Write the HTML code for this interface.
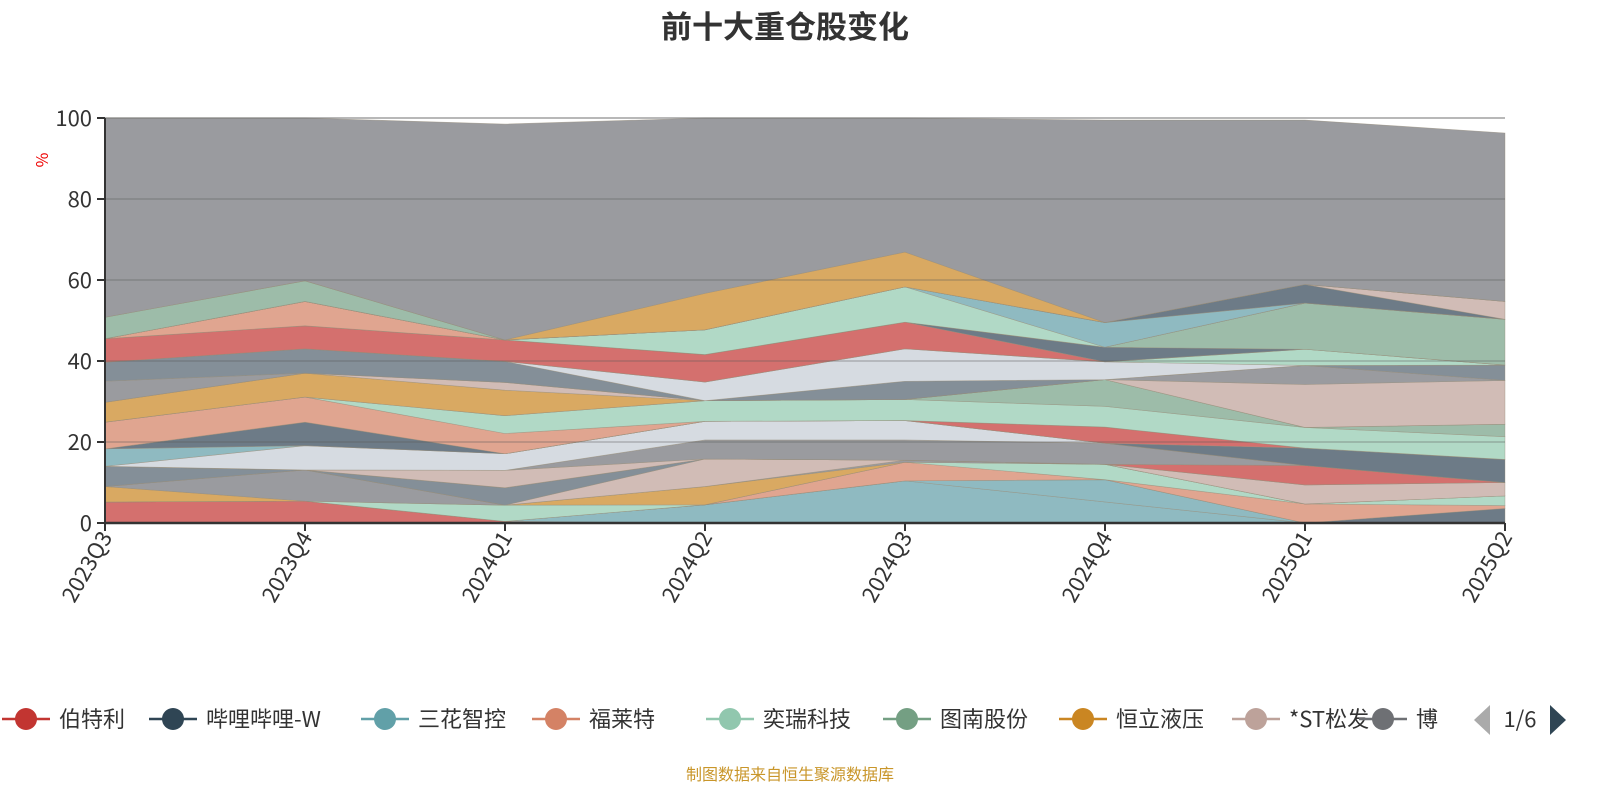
<!DOCTYPE html>
<html><head><meta charset="utf-8"><style>
html,body{margin:0;padding:0;background:#fff;width:1600px;height:800px;overflow:hidden}
svg text{font-family:"Noto Sans CJK SC","Liberation Sans",sans-serif}
</style></head><body>
<svg id="c" width="1600" height="800" xmlns="http://www.w3.org/2000/svg">
<text x="785" y="38" text-anchor="middle" font-size="31" font-weight="bold" fill="#333">前十大重仓股变化</text>
<text x="0" y="0" transform="translate(48,160) rotate(-90)" text-anchor="middle" font-size="16" fill="#e00">%</text>
<g id="grid"></g><g id="areas"></g><g id="axes"></g><g id="legend"></g>
<text x="790" y="780" text-anchor="middle" font-size="16" fill="#c9962a">制图数据来自恒生聚源数据库</text>
</svg>
<script>
const categories=["2023Q3","2023Q4","2024Q1","2024Q2","2024Q3","2024Q4","2025Q1","2025Q2"];
const yTicks=[0,20,40,60,80,100];
const s01=[5.2,5.4,0.4,0,0,0,0,0];
const s02=[0,0,0,4.5,10.4,5.2,0,0];
const s02b=[0,0,0,0,0,5.5,0,0];
const s03=[0,0,0,0,0,0,0,3.6];
const s04=[0,0,0,0,4.6,0,4.7,0.7];
const s05=[0,0,4.0,0,0,3.8,0,2.4];
const s06=[3.8,0,0,4.5,0,0,0,0];
const s07=[0,7.7,0,0,0.5,0,0,0];
const s08=[0,0,0,6.8,0,0,4.7,3.3];
const s09=[5.0,0,4.3,0,0,0,0,0];
const s10=[0,0,0,0,0,0,4.8,0];
const s11=[0,0,4.3,0,0,0,0,0];
const s12=[0,0,0,4.7,5.0,5.2,0,0];
const s13=[0,6.0,4.1,4.6,4.8,0,0,0];
const s14=[4.3,0,0,0,0,0,0,0];
const s15=[0,5.8,0,0,0,0,4.3,5.7];
const s16=[0,0,0,0,0,4.0,0,0];
const s17=[6.6,6.2,5.0,0,0,0,0,0];
const s18=[0,0,4.4,5.1,5.2,5.1,5.1,5.6];
const s19=[0,0,0,0,0,6.6,0,3.1];
const s20=[4.9,5.9,6.3,0,0,0,0,0];
const s21=[0,0,1.9,0,0,0,10.6,10.8];
const s22=[5.2,0,0,0,0,0,4.7,0];
const s23=[4.7,6.0,5.2,0,4.5,0,0,3.8];
const s24=[0,0,0,4.6,8.0,4.4,0,0];
const s25=[0,0,0,0,0,0,4.0,0];
const s26=[5.8,5.7,5.3,6.8,6.6,0,0,0];
const s27=[0,0,0,0,0,3.6,0,0];
const s28=[0,0,0,0,0,0,11.4,11.3];
const s29=[0,6.0,0,0,0,0,0,0];
const s30=[0,0,0,6.1,8.7,0,0,0];
const s31=[0,0,0,0,0,6.1,0,0];
const s32=[0,0,0,0,0,0,4.6,0];
const s33=[0,0,0,0,0,0,0,4.4];
const s34=[5.3,5.1,0,0,0,0,0,0];
const s35=[0,0,0,9.0,8.6,0,0,0];
const s36=[49.2,40.2,53.3,43.3,33.1,50.0,40.6,41.6];
const legendNames=["伯特利","哔哩哔哩-W","三花智控","福莱特","奕瑞科技","图南股份","恒立液压","*ST松发","博"];
const R="#d4706e",B="#8fbac1",D="#6d7b87",S="#e0a590",LG="#b1d9c6",O="#d9a962",G="#9a9b9f",T="#d1bcb6",GB="#848f98",W="#d6dbe1",GR="#9dbca9";
const series=[[s01,R],[s02,B],[s02b,B],[s03,D],[s04,S],[s05,LG],[s06,O],[s07,G],[s08,T],[s09,GB],[s10,R],[s11,T],[s12,G],[s13,W],[s14,B],[s15,D],[s16,R],[s17,S],[s18,LG],[s19,GR],[s20,O],[s21,T],[s22,G],[s23,GB],[s24,W],[s25,LG],[s26,R],[s27,D],[s28,GR],[s29,S],[s30,LG],[s31,B],[s32,D],[s33,T],[s34,GR],[s35,O],[s36,G]];
const legendColors=["#c23531","#2f4554","#61a0a8","#d48265","#91c7ae","#749f83","#ca8622","#bda29a","#6e7074"];
const NS="http://www.w3.org/2000/svg";
const X0=105,X1=1505,Y0=523,Y1=118;
const xs=i=>X0+i*(X1-X0)/(categories.length-1);
const ys=v=>Y0-v*(Y0-Y1)/100;
function mk(t,a,p){const e=document.createElementNS(NS,t);for(const k in a)e.setAttribute(k,a[k]);p.appendChild(e);return e;}
const grid=document.getElementById('grid'),areas=document.getElementById('areas'),axes=document.getElementById('axes'),leg=document.getElementById('legend');
yTicks.forEach(v=>{const l=mk('line',{x1:X0,x2:X1,y1:ys(v),y2:ys(v),stroke:'#ccc','stroke-width':1.5},grid);
});
let base=categories.map(()=>0);
series.forEach((sd,k)=>{const vals=sd[0];const top=base.map((b,i)=>b+vals[i]);
let d='M'+top.map((v,i)=>xs(i)+','+ys(v)).join('L');
for(let i=categories.length-1;i>=0;i--)d+='L'+xs(i)+','+ys(base[i]);d+='Z';
const p=mk('path',{d:d,fill:sd[1],stroke:'rgba(150,140,120,0.6)','stroke-width':0.6},areas);

base=top;});
yTicks.forEach(v=>{if(v>0){const l=mk('line',{x1:X0,x2:X1,y1:ys(v),y2:ys(v),stroke:'rgba(90,90,90,0.35)','stroke-width':1.5},axes);
}
const t=mk('line',{x1:X0-8,x2:X0,y1:ys(v),y2:ys(v),stroke:'#333','stroke-width':2},axes);

const tx=mk('text',{x:X0-13,y:ys(v)+8,'text-anchor':'end','font-size':22,fill:'#333'},axes);tx.textContent=v;
});
const ya=mk('line',{x1:X0,x2:X0,y1:Y1,y2:Y0,stroke:'#333','stroke-width':2},axes);

const xa=mk('line',{x1:X0,x2:X1,y1:Y0,y2:Y0,stroke:'#333','stroke-width':2.5},axes);

categories.forEach((c,i)=>{const t=mk('line',{x1:xs(i),x2:xs(i),y1:Y0,y2:Y0+8,stroke:'#333','stroke-width':2},axes);

const tx=mk('text',{transform:'translate('+(xs(i)+8)+','+(Y0+14)+') rotate(-60)','text-anchor':'end','font-size':22,fill:'#333'},axes);tx.textContent=c;
});
const lx=[26,173,385,556,730,907,1083,1256,1383];
const cp=mk('clipPath',{id:'lc'},leg);mk('rect',{x:0,y:690,width:1441,height:60},cp);
legendNames.forEach((n,i)=>{const g=mk('g',{},leg);
mk('line',{x1:lx[i]-24,x2:lx[i]+24,y1:719,y2:719,stroke:legendColors[i],'stroke-width':2.5},g);
mk('circle',{cx:lx[i],cy:719,r:11,fill:legendColors[i]},g);
const t=mk('text',{x:lx[i]+33,y:727,'font-size':22,fill:'#333'},g);t.textContent=n;
if(i===legendNames.length-1)t.setAttribute('clip-path','url(#lc)');});
const pl=mk('path',{d:'M1490,705L1474,720L1490,735Z',fill:'#aaa'},leg);
const pt=mk('text',{x:1520,y:727,'text-anchor':'middle','font-size':22,fill:'#333'},leg);pt.textContent='1/6';

const pr=mk('path',{d:'M1550,705L1566,720L1550,735Z',fill:'#2f4554'},leg);
</script>
</body></html>
